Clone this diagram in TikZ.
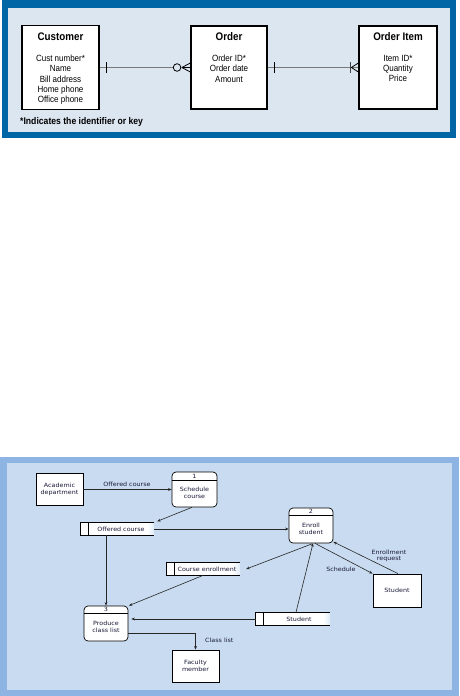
\documentclass[tikz,border=0pt]{standalone}
\usepackage{fontspec}
\setmainfont{Liberation Sans}
\newfontfamily\narrow[FakeStretch=0.89]{Liberation Sans}
\newfontfamily\dvs[FakeStretch=1.1]{DejaVu Sans}
\usetikzlibrary{calc,arrows.meta}
\definecolor{topdark}{HTML}{0066A6}
\definecolor{toplight}{HTML}{DCE6F1}
\definecolor{botdark}{HTML}{8DB4E2}
\definecolor{botlight}{HTML}{C8DBF0}
\definecolor{navytext}{HTML}{1A1A3A}
\definecolor{ergray}{HTML}{7A7A7A}
\definecolor{fadeblue}{HTML}{DDEBF7}
\begin{document}
\begin{tikzpicture}[x=1pt,y=-1pt,
  erbox/.style={draw=black, line width=1.3pt, fill=white, inner sep=0},
  ertitle/.style={font=\narrow\bfseries\fontsize{11}{12}\selectfont, inner sep=0},
  erbody/.style={font=\narrow\fontsize{9}{10.25}\selectfont, align=center, anchor=north, inner sep=0},
  erline/.style={draw=ergray, line width=0.7pt},
  ertick/.style={draw=black, line width=0.9pt},
  ext/.style={draw=black, line width=0.8pt, fill=white, inner sep=0, align=center, text=navytext, font=\dvs\fontsize{5.8}{6.4}\selectfont},
  proc/.style={draw=black, rounded corners=4pt, line width=0.7pt, fill=white, inner sep=0},
  storebox/.style={fill=white, inner sep=0},
  storeline/.style={draw=black, line width=0.7pt},
  txt/.style={inner sep=0, align=center, text=navytext, font=\dvs\fontsize{5.8}{6.4}\selectfont},
  flow/.style={draw=black!85, line width=0.6pt, -{Stealth[length=3.5pt,width=2.8pt]}}
]
\useasboundingbox (0,0) rectangle (460,696);

% ---------- top panel ----------
\fill[topdark] (2,0) rectangle (456,138);
\fill[toplight] (8,8) rectangle (450,132);

\node[erbox, minimum width=77pt, minimum height=84pt] (cust) at (60.5,67.5) {};
\node[erbox, minimum width=76pt, minimum height=83pt] (ord) at (229,67.5) {};
\node[erbox, minimum width=78pt, minimum height=83pt] (item) at (398,67.5) {};

\node[ertitle] (custT) at (60.5,37) {Customer};
\node[ertitle] (ordT) at (229,37) {Order};
\node[ertitle] (itemT) at (398,37) {Order Item};

\node[erbody] (custB) at (60.5,55) {Cust number*\\Name\\Bill address\\Home phone\\Office phone};
\node[erbody] (ordB) at (229,55) {Order ID*\\Order date\\Amount};
\node[erbody] (itemB) at (398,55) {Item ID*\\Quantity\\Price};

\node[anchor=west, inner sep=0, font=\narrow\bfseries\fontsize{9.7}{10}\selectfont] (foot) at (20,122) {*Indicates the identifier or key};

% Customer -- Order
\coordinate (o1) at ($(ord.west)+(-17.1,0)$);
\draw[erline] (cust.east) -- (o1);
\draw[ertick] ($(cust.east)+(7,-5.5)$) -- ($(cust.east)+(7,5.5)$);
\draw[black, line width=0.8pt] ($(ord.west)+(-13.3,0)$) circle (3.8pt);
\draw[black, line width=0.8pt] ($(ord.west)+(-8.5,0)$) -- ($(ord.west)+(0,-4.5)$)
      ($(ord.west)+(-8.5,0)$) -- (ord.west)
      ($(ord.west)+(-8.5,0)$) -- ($(ord.west)+(0,4.5)$);

% Order -- Order Item
\draw[erline] (ord.east) -- (item.west);
\draw[ertick] ($(ord.east)+(7,-5.5)$) -- ($(ord.east)+(7,5.5)$);
\draw[draw=black!75, line width=1.6pt] ($(item.west)+(-8,-5.5)$) -- ($(item.west)+(-8,5.5)$);
\draw[black, line width=0.8pt] ($(item.west)+(-7,0)$) -- ($(item.west)+(0,-4.5)$)
      ($(item.west)+(-7,0)$) -- ($(item.west)+(0,4.5)$);

% ---------- bottom panel ----------
\fill[botdark] (0,457) rectangle (459,696);
\fill[botlight] (7,463) rectangle (452,690);

% external entities
\node[ext, minimum width=47pt, minimum height=32pt] (acad) at (59.5,489.5) {Academic\\department};
\node[ext, minimum width=48pt, minimum height=33pt] (stud) at (397,590.5) {Student};
\node[ext, minimum width=47pt, minimum height=32pt] (fac) at (195.5,666) {Faculty\\member};

% processes
\node[proc, minimum width=45pt, minimum height=35pt] (p1) at (194.5,489.5) {};
\draw[line width=0.6pt] (p1.west |- 0,480) -- (p1.east |- 0,480);
\node[txt] (p1n) at (194.5,476) {1};
\node[txt] (p1t) at (194.5,493) {Schedule\\course};

\node[proc, minimum width=44pt, minimum height=35pt] (p2) at (311,525.5) {};
\draw[line width=0.6pt] (p2.west |- 0,515.5) -- (p2.east |- 0,515.5);
\node[txt] (p2n) at (311,511.5) {2};
\node[txt] (p2t) at (311,529) {Enroll\\student};

\node[proc, minimum width=44pt, minimum height=35pt] (p3) at (106,623.5) {};
\draw[line width=0.6pt] (p3.west |- 0,613.5) -- (p3.east |- 0,613.5);
\node[txt] (p3n) at (106,609.5) {3};
\node[txt] (p3t) at (106,627) {Produce\\class list};

% data stores
\node[storebox, minimum width=73pt, minimum height=12pt] (s1) at (117.5,529) {};
\shade[left color=white, right color=fadeblue] ($(s1.north east)+(-7,0)$) rectangle (s1.south east);
\draw[storeline] (s1.north east) -- (s1.north west) -- (s1.south west) -- (s1.south east);
\draw[storeline] ($(s1.north west)+(7.5,0)$) -- ($(s1.south west)+(7.5,0)$);
\node[txt] (s1t) at (121,529) {Offered course};

\node[storebox, minimum width=73pt, minimum height=12pt] (s2) at (203.5,569) {};
\shade[left color=white, right color=fadeblue] ($(s2.north east)+(-7,0)$) rectangle (s2.south east);
\draw[storeline] (s2.north east) -- (s2.north west) -- (s2.south west) -- (s2.south east);
\draw[storeline] ($(s2.north west)+(8,0)$) -- ($(s2.south west)+(8,0)$);
\node[txt] (s2t) at (207,569) {Course enrollment};

\node[storebox, minimum width=74pt, minimum height=13pt] (s3) at (293,619) {};
\shade[left color=white, right color=fadeblue] ($(s3.north east)+(-7,0)$) rectangle (s3.south east);
\draw[storeline] (s3.north east) -- (s3.north west) -- (s3.south west) -- (s3.south east);
\draw[storeline] ($(s3.north west)+(8,0)$) -- ($(s3.south west)+(8,0)$);
\node[txt] (s3t) at (299,619) {Student};

% flows
\draw[flow] (acad.east) -- (acad.east -| p1.west);
\node[txt] (l1) at (127,484.5) {Offered course};

\draw[flow] ($(p1.south)+(-2.5,0)$) -- ($(s1.north east)+(3,-1.5)$);
\draw[flow] (s1.east) -- (s1.east -| p2.west);
\draw[flow] (p3.north |- s1.south) -- (p3.north);
\draw[flow] ($(p2.south)+(1,0.5)$) -- ($(s2.east)+(6,0)$);
\draw[flow] (s2.south) -- ($(p3.north east)+(0.5,0)$);
\draw[flow] (s3.west) -- ($(s3.west -| p3.east)+(3,0)$);
\draw[flow] ($(s3.north)+(3,0)$) -- ($(p2.south)+(2,0)$);
\draw[flow] ($(p2.south)+(4,0)$) -- (stud.north west);
\node[txt] (l2) at (341,569.5) {Schedule};
\draw[flow] ($(stud.north)+(1,0)$) -- ($(p2.south east)+(0,-1.5)$);
\node[txt] (l3) at (389,556) {Enrollment\\request};
\draw[flow] ($(p3.east)+(0,9.5)$) -| (fac.north);
\node[txt, anchor=west] (l4) at (205,640) {Class list};

\end{tikzpicture}
\end{document}
